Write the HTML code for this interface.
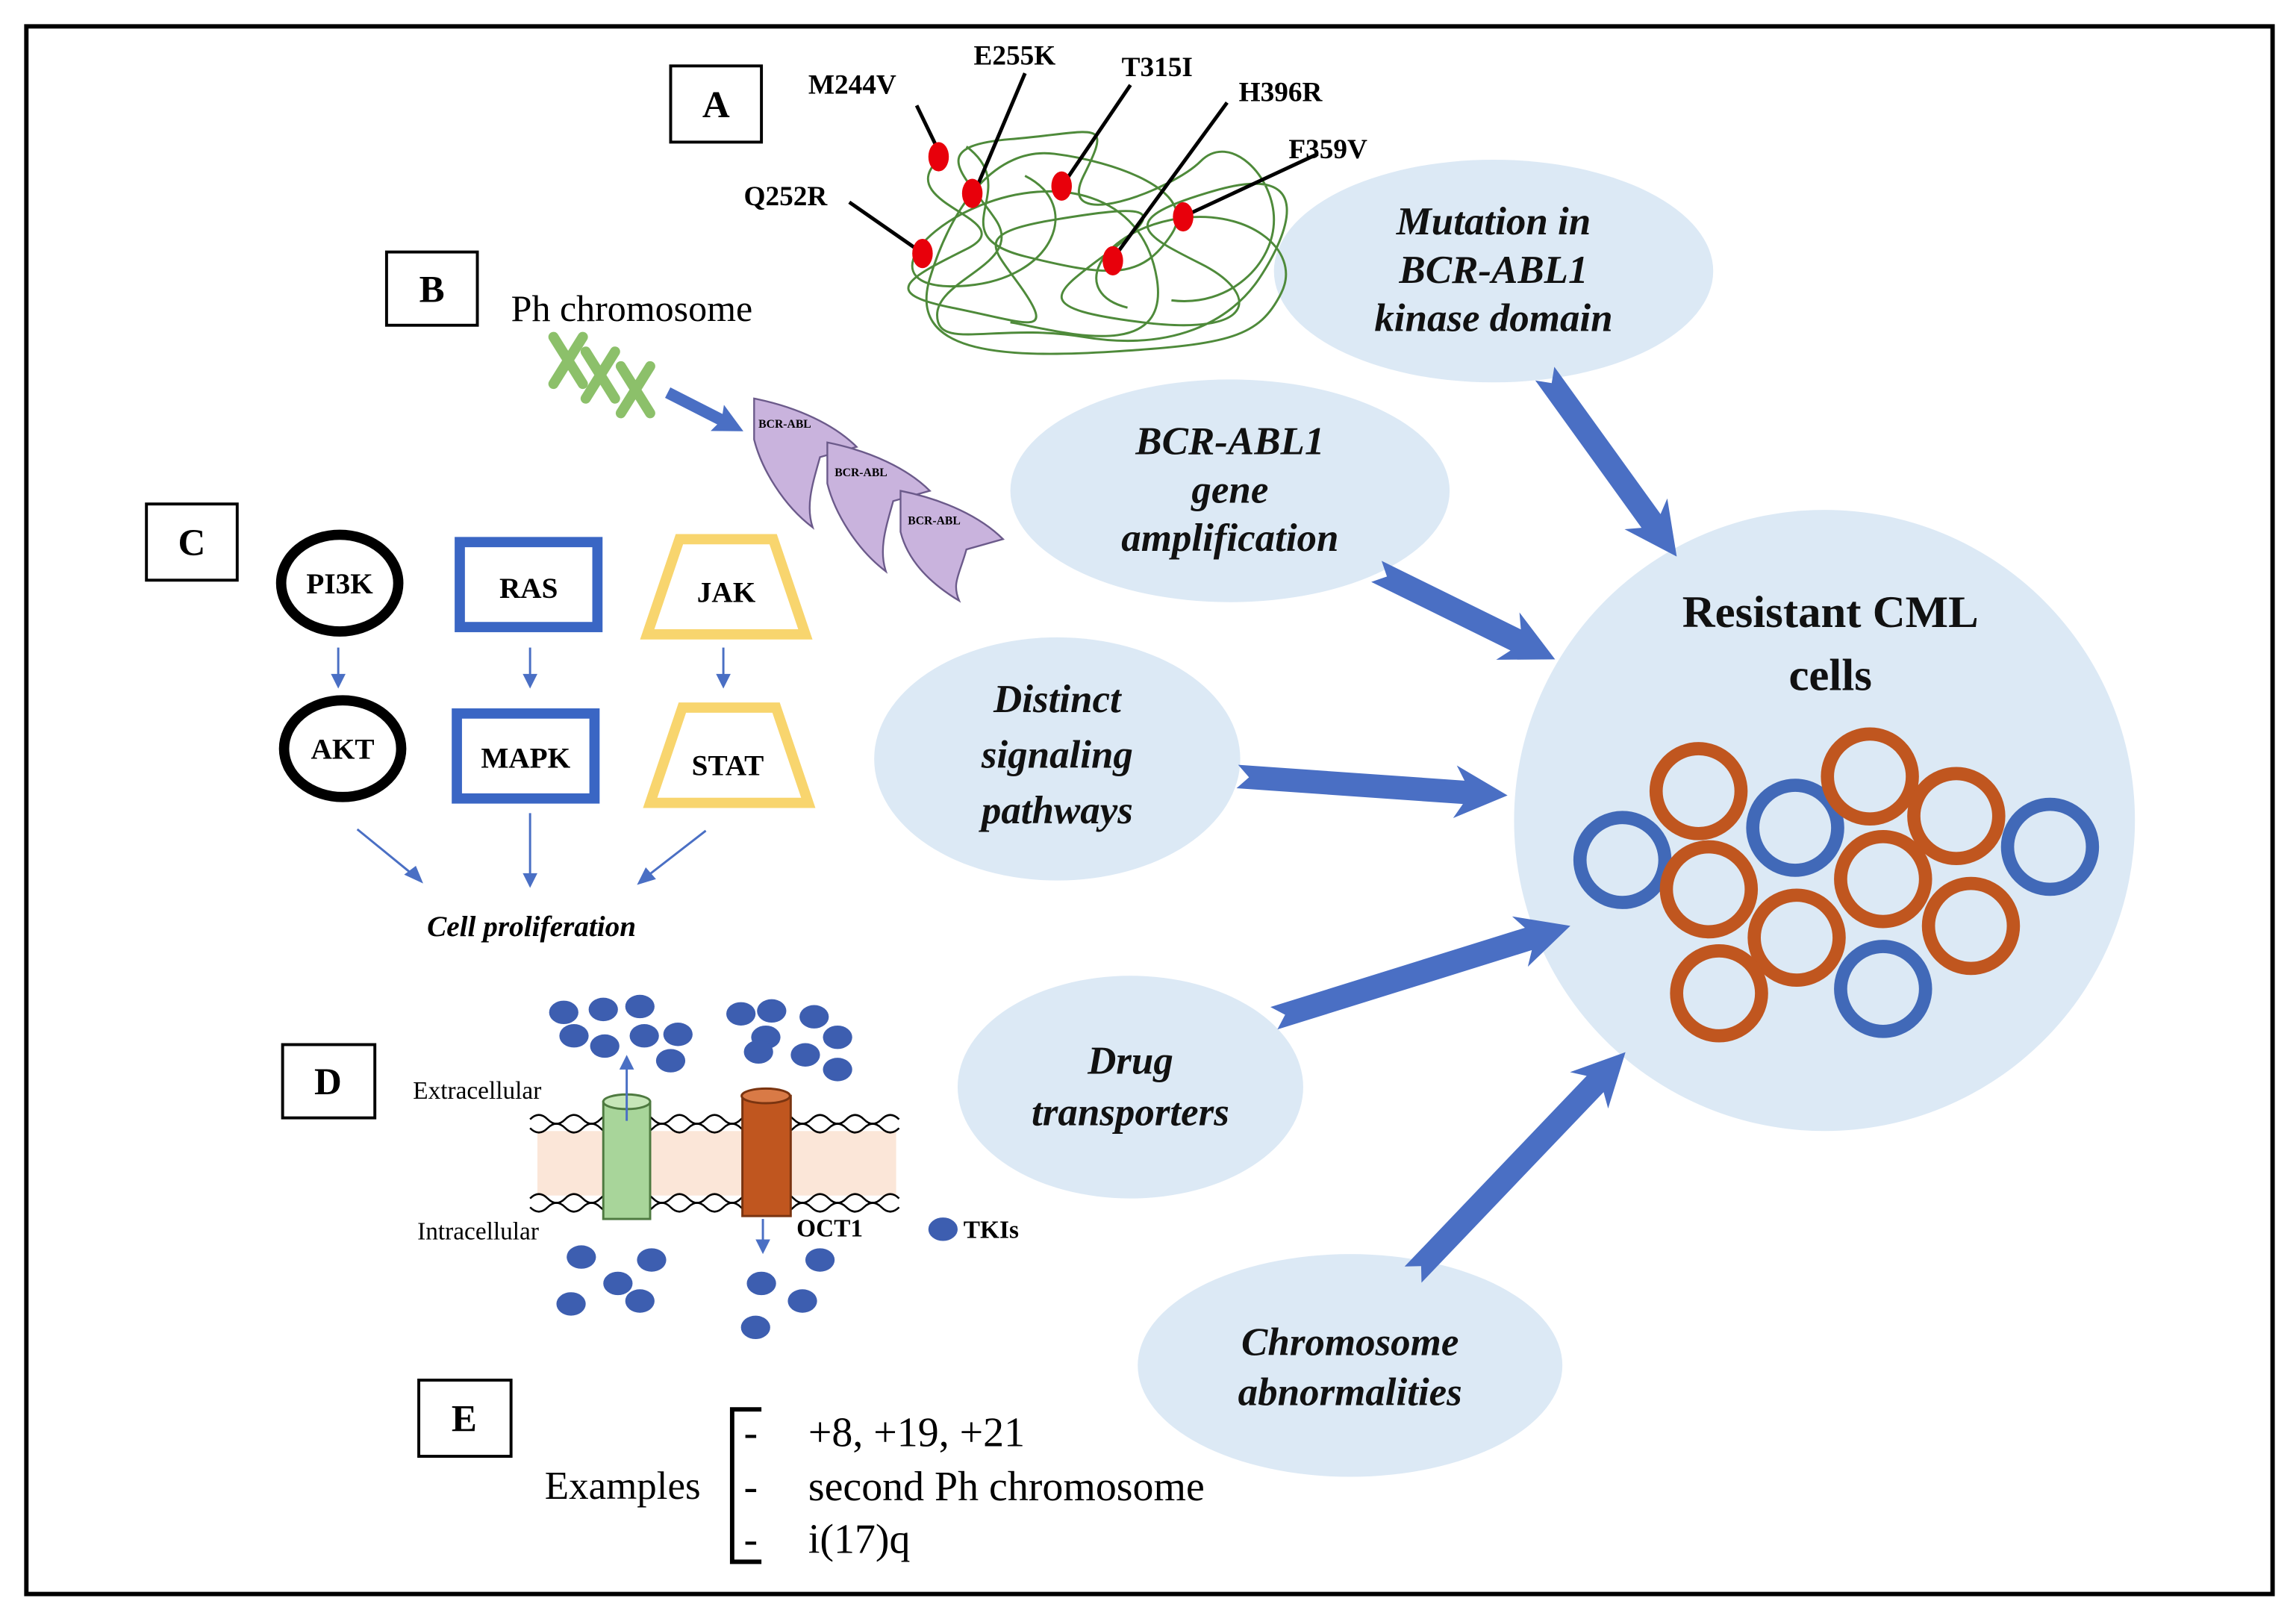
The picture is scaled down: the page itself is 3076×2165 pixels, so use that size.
<!DOCTYPE html>
<html><head><meta charset="utf-8"><style>
html,body{margin:0;padding:0;background:#fff;}
svg{display:block;}
text{font-family:"Liberation Serif",serif;}
</style></head><body>
<svg width="3076" height="2165" viewBox="0 0 1568 1103" preserveAspectRatio="none" xmlns="http://www.w3.org/2000/svg">
<rect x="0" y="0" width="1568" height="1103" fill="#fff"/>
<rect x="18" y="18" width="1534" height="1070" fill="none" stroke="#000" stroke-width="3"/>

<g fill="#dce9f5">
<ellipse cx="1020" cy="185" rx="150" ry="76"/>
<ellipse cx="840" cy="335" rx="150" ry="76"/>
<ellipse cx="722" cy="518" rx="125" ry="83"/>
<ellipse cx="772" cy="742" rx="118" ry="76"/>
<ellipse cx="922" cy="932" rx="145" ry="76"/>
<circle cx="1246" cy="560" r="212"/>
</g>
<g font-weight="bold" font-style="italic" font-size="27" text-anchor="middle" fill="#111">
<text x="1020" y="160">Mutation in</text><text x="1020" y="193">BCR-ABL1</text><text x="1020" y="226">kinase domain</text>
<text x="840" y="310">BCR-ABL1</text><text x="840" y="343">gene</text><text x="840" y="376">amplification</text>
<text x="722" y="486">Distinct</text><text x="722" y="524">signaling</text><text x="722" y="562">pathways</text>
<text x="772" y="733">Drug</text><text x="772" y="768">transporters</text>
<text x="922" y="925">Chromosome</text><text x="922" y="959">abnormalities</text>
</g>
<g font-weight="bold" font-size="31" text-anchor="middle" fill="#111">
<text x="1250" y="428">Resistant CML</text><text x="1250" y="471">cells</text>
</g>

<g fill="#4a6fc4">
<polygon points="0,-8 124,-8 118,-18 154,0 118,18 124,8 0,8 8,0" transform="translate(1055,255) rotate(54.2)"/>
<polygon points="0,-8 106,-8 100,-18 136,0 100,18 106,8 0,8 8,0" transform="translate(940,390) rotate(26.2)"/>
<polygon points="0,-8 155,-8 149,-18 185,0 149,18 155,8 0,8 8,0" transform="translate(845,530) rotate(4)"/>
<polygon points="0,-8 182,-8 176,-18 212,0 176,18 182,8 0,8 8,0" transform="translate(870,695) rotate(-17.3)"/>
<polygon points="0,-8 180,-8 174,-18 210,0 174,18 180,8 0,8 8,0" transform="translate(965,870) rotate(-46.3)"/>
</g>

<g fill="none" stroke-width="9">
<g stroke="#4169b8">
<circle cx="1108" cy="587" r="29"/><circle cx="1226" cy="565" r="29"/><circle cx="1400" cy="578" r="29"/><circle cx="1286" cy="675" r="29"/>
</g>
<g stroke="#c0561f">
<circle cx="1160" cy="540" r="29"/><circle cx="1277" cy="530" r="29"/><circle cx="1336" cy="557" r="29"/><circle cx="1167" cy="607" r="29"/>
<circle cx="1286" cy="600" r="29"/><circle cx="1227" cy="640" r="29"/><circle cx="1346" cy="632" r="29"/><circle cx="1174" cy="678" r="29"/>
</g>
</g>

<g fill="#fff" stroke="#000" stroke-width="2">
<rect x="458" y="45" width="62" height="52"/><rect x="264" y="172" width="62" height="50"/>
<rect x="100" y="344" width="62" height="52"/><rect x="193" y="713" width="63" height="50"/>
<rect x="286" y="942" width="63" height="52"/>
</g>
<g font-weight="bold" font-size="26" text-anchor="middle">
<text x="489" y="80">A</text><text x="295" y="206">B</text><text x="131" y="379">C</text><text x="224" y="747">D</text><text x="317" y="977">E</text>
</g>

<g fill="none" stroke="#4e8a3a" stroke-width="1.5">
<path d="M640,110 C610,140 700,150 660,170 S600,200 650,210 S720,230 700,200 S660,160 720,150 S800,140 760,170 S700,210 780,220 S860,200 820,180 S760,150 830,130 S880,160 860,190 S800,240 740,230 S640,240 640,215 S700,180 680,150 S630,100 690,95 S760,80 740,120 S800,130 820,110 S870,120 870,150 S840,210 800,205"/>
<path d="M660,100 C700,130 640,160 700,175 S780,190 800,160 S760,110 720,105 S650,140 635,190 S680,245 760,240 S860,230 875,200 S850,140 800,150 S730,200 770,210"/>
<path d="M700,120 C740,140 720,190 660,195 S620,160 670,140 S780,130 790,190 S720,225 690,220"/>
</g>
<g stroke="#000" stroke-width="2.5">
<line x1="626" y1="72" x2="641" y2="103"/><line x1="700" y1="50" x2="667" y2="128"/><line x1="772" y1="58" x2="728" y2="123"/>
<line x1="580" y1="138" x2="626" y2="170"/><line x1="838" y1="70" x2="762" y2="174"/><line x1="900" y1="105" x2="812" y2="146"/>
</g>
<g fill="#e8000b">
<ellipse cx="641" cy="107" rx="7" ry="10"/><ellipse cx="664" cy="132" rx="7" ry="10"/><ellipse cx="725" cy="127" rx="7" ry="10"/>
<ellipse cx="630" cy="173" rx="7" ry="10"/><ellipse cx="760" cy="178" rx="7" ry="10"/><ellipse cx="808" cy="148" rx="7" ry="10"/>
</g>
<g font-weight="bold" font-size="19">
<text x="552" y="64">M244V</text><text x="665" y="44">E255K</text><text x="766" y="52">T315I</text>
<text x="846" y="69">H396R</text><text x="880" y="108">F359V</text><text x="508" y="140">Q252R</text>
</g>

<text x="349" y="219" font-size="25.5">Ph chromosome</text>
<g stroke="#8cc06a" stroke-width="7" stroke-linecap="round">
<path d="M378,230 L398,262 M398,230 L378,262"/><path d="M400,240 L420,272 M420,240 L400,272"/><path d="M424,250 L444,282 M444,250 L424,282"/>
</g>
<polygon points="0,-4 40,-4 38,-10 58,0 38,10 40,4 0,4" fill="#4a6fc4" transform="translate(456,268) rotate(27)"/>
<g fill="#c9b3dd" stroke="#6b5a8a" stroke-width="1.2">
<path d="M515,272 C545,278 570,290 585,305 L560,312 C555,330 550,345 555,360 C535,345 520,320 515,300 Z"/>
<path d="M565,302 C595,308 620,320 635,335 L610,342 C605,360 600,375 605,390 C585,375 570,350 565,330 Z"/>
<path d="M615,335 C645,341 670,353 685,368 L660,375 C655,393 650,398 655,410 C635,398 620,383 615,363 Z"/>
</g>
<g font-size="8" font-weight="bold"><text x="518" y="292">BCR-ABL</text><text x="570" y="325">BCR-ABL</text><text x="620" y="358">BCR-ABL</text></g>

<ellipse cx="232" cy="398" rx="40" ry="33" fill="none" stroke="#000" stroke-width="7"/>
<ellipse cx="234" cy="511" rx="40" ry="33" fill="none" stroke="#000" stroke-width="7"/>
<rect x="314" y="370" width="94" height="58" fill="none" stroke="#3a66c4" stroke-width="7"/>
<rect x="312" y="487" width="94" height="58" fill="none" stroke="#3a66c4" stroke-width="7"/>
<polygon points="464,368 528,368 550,433 442,433" fill="none" stroke="#f8d56e" stroke-width="7"/>
<polygon points="466,483 530,483 552,548 444,548" fill="none" stroke="#f8d56e" stroke-width="7"/>
<g font-weight="bold" font-size="20" text-anchor="middle">
<text x="232" y="405">PI3K</text><text x="234" y="518">AKT</text><text x="361" y="408">RAS</text>
<text x="359" y="524">MAPK</text><text x="496" y="411">JAK</text><text x="497" y="529">STAT</text>
</g>
<g stroke="#4a6fc4" stroke-width="1.5" fill="#4a6fc4">
<line x1="231" y1="442" x2="231" y2="462"/><polygon points="226,460 236,460 231,470" stroke="none"/>
<line x1="362" y1="442" x2="362" y2="462"/><polygon points="357,460 367,460 362,470" stroke="none"/>
<line x1="494" y1="442" x2="494" y2="462"/><polygon points="489,460 499,460 494,470" stroke="none"/>
<line x1="362" y1="555" x2="362" y2="598"/><polygon points="357,596 367,596 362,606" stroke="none"/>
<line x1="244" y1="566" x2="282" y2="597"/><polygon points="276,597 284,591 289,603" stroke="none"/>
<line x1="482" y1="567" x2="442" y2="598"/><polygon points="441,592 448,600 435,604" stroke="none"/>
</g>
<text x="363" y="639" font-weight="bold" font-style="italic" font-size="20" text-anchor="middle">Cell proliferation</text>

<rect x="367" y="772" width="245" height="44" fill="#fbe6d8"/>
<g fill="none" stroke="#000" stroke-width="1.3">
<path d="M362,764 q6,-6 12,0 t12,0 t12,0 t12,0 t12,0 t12,0 t12,0 t12,0 t12,0 t12,0 t12,0 t12,0 t12,0 t12,0 t12,0 t12,0 t12,0 t12,0 t12,0 t12,0 t12,0"/>
<path d="M362,770 q6,6 12,0 t12,0 t12,0 t12,0 t12,0 t12,0 t12,0 t12,0 t12,0 t12,0 t12,0 t12,0 t12,0 t12,0 t12,0 t12,0 t12,0 t12,0 t12,0 t12,0 t12,0"/>
<path d="M362,818 q6,-6 12,0 t12,0 t12,0 t12,0 t12,0 t12,0 t12,0 t12,0 t12,0 t12,0 t12,0 t12,0 t12,0 t12,0 t12,0 t12,0 t12,0 t12,0 t12,0 t12,0 t12,0"/>
<path d="M362,824 q6,6 12,0 t12,0 t12,0 t12,0 t12,0 t12,0 t12,0 t12,0 t12,0 t12,0 t12,0 t12,0 t12,0 t12,0 t12,0 t12,0 t12,0 t12,0 t12,0 t12,0 t12,0"/>
</g>
<g>
<rect x="412" y="752" width="32" height="80" fill="#a8d59a" stroke="#4e7a40" stroke-width="1.5"/>
<ellipse cx="428" cy="752" rx="16" ry="5" fill="#c6e6b8" stroke="#4e7a40" stroke-width="1.5"/>
<rect x="507" y="748" width="33" height="82" fill="#c0561f" stroke="#7a3410" stroke-width="1.5"/>
<ellipse cx="523" cy="748" rx="16.5" ry="5" fill="#d97a46" stroke="#7a3410" stroke-width="1.5"/>
</g>
<g stroke="#4a6fc4" stroke-width="1.5" fill="#4a6fc4">
<line x1="428" y1="765" x2="428" y2="728"/><polygon points="423,730 433,730 428,720" stroke="none"/>
<line x1="521" y1="832" x2="521" y2="848"/><polygon points="516,846 526,846 521,856" stroke="none"/>
</g>
<g fill="#3d5eb0">
<ellipse cx="385" cy="691" rx="10" ry="8"/><ellipse cx="412" cy="689" rx="10" ry="8"/><ellipse cx="437" cy="687" rx="10" ry="8"/>
<ellipse cx="392" cy="707" rx="10" ry="8"/><ellipse cx="413" cy="714" rx="10" ry="8"/><ellipse cx="440" cy="707" rx="10" ry="8"/>
<ellipse cx="463" cy="706" rx="10" ry="8"/><ellipse cx="458" cy="724" rx="10" ry="8"/>
<ellipse cx="506" cy="692" rx="10" ry="8"/><ellipse cx="527" cy="690" rx="10" ry="8"/><ellipse cx="556" cy="694" rx="10" ry="8"/>
<ellipse cx="523" cy="708" rx="10" ry="8"/><ellipse cx="572" cy="708" rx="10" ry="8"/><ellipse cx="518" cy="718" rx="10" ry="8"/>
<ellipse cx="550" cy="720" rx="10" ry="8"/><ellipse cx="572" cy="730" rx="10" ry="8"/>
<ellipse cx="397" cy="858" rx="10" ry="8"/><ellipse cx="445" cy="860" rx="10" ry="8"/><ellipse cx="422" cy="876" rx="10" ry="8"/>
<ellipse cx="390" cy="890" rx="10" ry="8"/><ellipse cx="437" cy="888" rx="10" ry="8"/>
<ellipse cx="560" cy="860" rx="10" ry="8"/><ellipse cx="520" cy="876" rx="10" ry="8"/><ellipse cx="548" cy="888" rx="10" ry="8"/>
<ellipse cx="516" cy="906" rx="10" ry="8"/>
<ellipse cx="644" cy="839" rx="10" ry="8"/>
</g>
<g font-size="17">
<text x="282" y="750">Extracellular</text><text x="285" y="846">Intracellular</text>
</g>
<g font-size="17" font-weight="bold"><text x="544" y="844">OCT1</text><text x="658" y="845">TKIs</text></g>

<text x="372" y="1023" font-size="27">Examples</text>
<path d="M520,962 L500,962 L500,1066 L520,1066" fill="none" stroke="#000" stroke-width="3"/>
<g font-size="28.5">
<text x="508" y="987">-</text><text x="552" y="987">+8, +19, +21</text>
<text x="508" y="1024">-</text><text x="552" y="1024">second Ph chromosome</text>
<text x="508" y="1060">-</text><text x="552" y="1060">i(17)q</text>
</g>
</svg>
</body></html>
